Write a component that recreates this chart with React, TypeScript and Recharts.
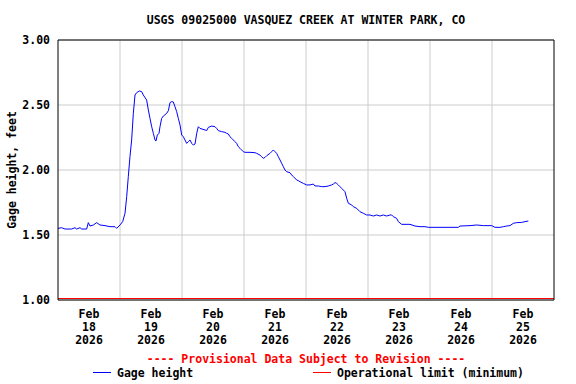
import React from "react";
import { LineChart, Line, XAxis, YAxis, CartesianGrid, ReferenceLine } from "recharts";

// days since Feb 18 2026 00:00
const times: number[] = [
  0.0, 0.059, 0.113, 0.22, 0.274, 0.301, 0.355, 0.382, 0.462, 0.489,
  0.516, 0.57, 0.624, 0.677, 0.758, 0.839, 0.919, 0.946, 1.0, 1.043,
  1.081, 1.108, 1.134, 1.161, 1.188, 1.215, 1.242, 1.269, 1.312, 1.349,
  1.376, 1.43, 1.457, 1.484, 1.511, 1.538, 1.565, 1.581, 1.602, 1.629,
  1.645, 1.672, 1.699, 1.753, 1.78, 1.806, 1.833, 1.86, 1.887, 1.914,
  1.941, 1.968, 1.995, 2.022, 2.048, 2.075, 2.102, 2.129, 2.156, 2.183,
  2.21, 2.237, 2.263,
  2.29, 2.371, 2.398, 2.425, 2.479, 2.532, 2.559, 2.586, 2.64, 2.694,
  2.72, 2.747, 2.774, 2.801, 2.828, 2.855, 2.882, 2.909, 2.935, 2.962,
  2.989, 3.016, 3.097, 3.177, 3.204, 3.258, 3.285, 3.312, 3.339, 3.366,
  3.419, 3.446, 3.473, 3.5, 3.527, 3.554, 3.581, 3.608, 3.634, 3.661,
  3.688, 3.742, 3.769, 3.796, 3.85, 3.876, 3.903, 3.957, 4.011, 4.065,
  4.118, 4.145, 4.199, 4.253, 4.306, 4.36, 4.414, 4.441, 4.468, 4.495,
  4.521, 4.548, 4.575, 4.602, 4.629, 4.656, 4.683, 4.737, 4.763, 4.817,
  4.871, 4.925, 4.978,
  5.032, 5.086, 5.14, 5.194, 5.247, 5.301, 5.355, 5.382, 5.409, 5.462,
  5.489, 5.543, 5.677, 5.758, 5.839, 5.919, 5.973, 6.457, 6.484, 6.645,
  6.753, 6.86, 6.995, 7.048, 7.129, 7.183, 7.237, 7.29, 7.344, 7.398,
  7.479, 7.532, 7.586,
];

// gage height, feet
const gageHeight: number[] = [
  1.551, 1.556, 1.546, 1.546, 1.556, 1.546, 1.556, 1.546, 1.546, 1.595,
  1.569, 1.577, 1.595, 1.577, 1.572, 1.564, 1.564, 1.551, 1.577, 1.603,
  1.667, 1.795, 1.949, 2.103, 2.231, 2.436, 2.577, 2.595, 2.608, 2.603,
  2.577, 2.538, 2.462, 2.397, 2.333, 2.282, 2.231, 2.223, 2.269, 2.282,
  2.333, 2.397, 2.415, 2.436, 2.456, 2.518, 2.526, 2.523, 2.487, 2.449,
  2.397, 2.346, 2.269, 2.256, 2.231, 2.205, 2.218, 2.231, 2.205, 2.192,
  2.2, 2.282, 2.333,
  2.32, 2.308, 2.303, 2.328, 2.338, 2.333, 2.32, 2.303, 2.295, 2.29,
  2.282, 2.277, 2.256, 2.244, 2.231, 2.218, 2.205, 2.179, 2.167, 2.154,
  2.141, 2.136, 2.136, 2.133, 2.128, 2.115, 2.102, 2.09, 2.097, 2.11,
  2.128, 2.141, 2.154, 2.141, 2.128, 2.102, 2.077, 2.051, 2.026, 2.0,
  1.987, 1.979, 1.962, 1.949, 1.923, 1.918, 1.91, 1.897, 1.885, 1.885,
  1.892, 1.877, 1.877, 1.872, 1.872, 1.877, 1.885, 1.892, 1.903, 1.897,
  1.885, 1.872, 1.859, 1.846, 1.833, 1.782, 1.744, 1.731, 1.718, 1.705,
  1.679, 1.667, 1.654,
  1.654, 1.646, 1.654, 1.646, 1.654, 1.646, 1.654, 1.654, 1.641, 1.628,
  1.603, 1.582, 1.582, 1.569, 1.564, 1.564, 1.559, 1.559, 1.569, 1.572,
  1.577, 1.572, 1.572, 1.559, 1.559, 1.564, 1.569, 1.572, 1.59, 1.595,
  1.597, 1.603, 1.608,
];

const dayLabels: string[] = ["18", "19", "20", "21", "22", "23", "24", "25"];
const monthLabel = "Feb";
const yearLabel = "2026";
const xTickPositions: number[] = [0.5, 1.5, 2.5, 3.5, 4.5, 5.5, 6.5, 7.5];
const dayBoundaries: number[] = [1, 2, 3, 4, 5, 6, 7];
const yTicks: number[] = [1.0, 1.5, 2.0, 2.5, 3.0];
const operationalLimit = 1.0115;
const xDomain: [number, number] = [0, 8];
const yDomain: [number, number] = [1, 3];

const title = "USGS 09025000 VASQUEZ CREEK AT WINTER PARK, CO";
const yLabel = "Gage height, feet";
const provisional = "---- Provisional Data Subject to Revision ----";
const seriesName = "Gage height";
const limitName = "Operational limit (minimum)";

const data = times.map((t, i) => ({ t, h: gageHeight[i] }));

const FONT = "'DejaVu Sans Mono', 'Liberation Mono', monospace";
const FS = 11.5;

const XTick = (props: any) => {
  const { x, y, payload } = props;
  const idx = Math.round(payload.value - 0.5);
  return (
    <text x={x} y={y} textAnchor="middle" fontFamily={FONT} fontWeight="bold" fontSize={FS} fill="#000">
      <tspan x={x} dy={18}>{monthLabel}</tspan>
      <tspan x={x} dy={13}>{dayLabels[idx]}</tspan>
      <tspan x={x} dy={13}>{yearLabel}</tspan>
    </text>
  );
};

export default function App() {
  return (
    <div style={{ position: "absolute", left: 0, top: 0, width: 576, height: 384, background: "#fff" }}>
      <LineChart width={576} height={384} data={data} margin={{ top: 40, right: 22, left: 0, bottom: 0 }}>
        <CartesianGrid vertical={false} stroke="#cccccc" strokeWidth={1} />
        {dayBoundaries.map((d) => (
          <ReferenceLine key={d} x={d} stroke="#cccccc" strokeWidth={1} />
        ))}
        <XAxis
          dataKey="t"
          type="number"
          domain={xDomain}
          ticks={xTickPositions}
          tick={<XTick />}
          tickLine={false}
          tickSize={0}
          tickMargin={0}
          height={84}
          axisLine={{ stroke: "#000", strokeWidth: 1 }}
          interval={0}
          allowDataOverflow
        />
        <YAxis
          type="number"
          domain={yDomain}
          ticks={yTicks}
          width={58}
          tickLine={false}
          tickSize={0}
          tickMargin={8}
          tickFormatter={(v: number) => v.toFixed(2)}
          tick={{ fontFamily: FONT, fontWeight: "bold", fontSize: FS, fill: "#000" }}
          axisLine={{ stroke: "#000", strokeWidth: 1 }}
          interval={0}
          allowDataOverflow
        />
        <ReferenceLine y={operationalLimit} stroke="#ff0000" strokeWidth={1} />
        <ReferenceLine y={3} stroke="#000" strokeWidth={1} />
        <ReferenceLine x={8} stroke="#000" strokeWidth={1} />
        <Line
          type="linear"
          dataKey="h"
          stroke="#0000ff"
          strokeWidth={1}
          dot={false}
          isAnimationActive={false}
        />
      </LineChart>
      <svg
        width={576}
        height={384}
        style={{ position: "absolute", left: 0, top: 0, pointerEvents: "none" }}
        fontFamily={FONT}
        fontWeight="bold"
        fontSize={FS}
      >
        <text x={306} y={24} textAnchor="middle" fill="#000">{title}</text>
        <text x={0} y={0} textAnchor="middle" fill="#000" transform="translate(16,170) rotate(-90)">{yLabel}</text>
        <text x={306} y={363} textAnchor="middle" fill="#ff0000">{provisional}</text>
        <line x1={93} x2={111} y1={372.5} y2={372.5} stroke="#0000ff" strokeWidth={1} />
        <text x={117} y={377} fill="#000">{seriesName}</text>
        <line x1={313} x2={331} y1={372.5} y2={372.5} stroke="#ff0000" strokeWidth={1} />
        <text x={337} y={377} fill="#000">{limitName}</text>
      </svg>
    </div>
  );
}
